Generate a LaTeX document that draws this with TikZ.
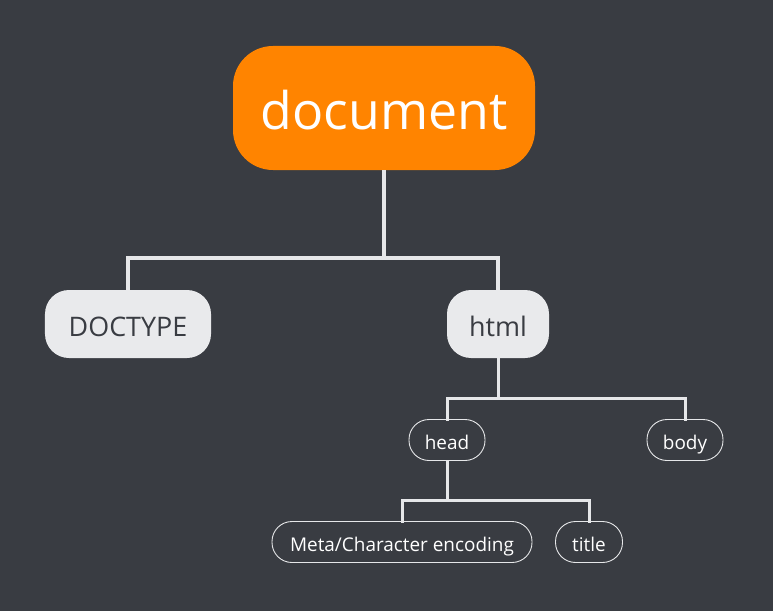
\documentclass[tikz,border=0pt]{standalone}
\usepackage{fontspec}
\setmainfont{Open Sans}
\usetikzlibrary{positioning, calc}
\definecolor{bgdark}{RGB}{57,60,66}
\definecolor{rootorange}{RGB}{255,132,0}
\definecolor{boxlight}{RGB}{233,234,236}
\definecolor{linelight}{RGB}{230,231,233}

\begin{document}
\begin{tikzpicture}[x=1bp, y=-1bp,
        root/.style={fill=rootorange, rounded corners=40bp, minimum width=302bp,
          minimum height=124bp, inner sep=0pt, text height=44bp, text depth=0pt,
          text=white, font=\fontsize{52}{60}\selectfont},
        branch/.style={fill=boxlight, rounded corners=24bp, minimum height=68bp,
          inner sep=0pt, text height=24bp, text depth=0pt,
          text=bgdark, font=\fontsize{27}{30}\selectfont},
        leaf/.style={draw=linelight, line width=0.9bp, rounded corners=20bp, minimum height=41bp,
          inner sep=0pt, text height=19bp, text depth=0pt,
          text=white, font=\fontsize{19}{22}\selectfont},
        conn/.style={draw=linelight, line width=3.6bp},
        subconn/.style={draw=linelight, line width=3bp}]
      \fill[bgdark] (0,0) rectangle (773,611);
      % nodes
      \node[root] (doc) at (384,108) {document};
      \node[branch, minimum width=166bp] (doctype) at (128,324) {DOCTYPE};
      \node[branch, minimum width=102bp] (html) at (498,324) {html};
      \node[leaf, minimum width=76bp] (head) at (447,440) {head};
      \node[leaf, minimum width=76bp] (body) at (685,440) {body};
      \node[leaf, minimum width=260bp] (meta) at (402,542) {Meta/Character encoding};
      \node[leaf, minimum width=67bp] (title) at (589,542) {title};
      % connectors
      \coordinate (j1) at (doc.south |- 0,258);
      \coordinate (j2) at (html.south |- 0,398);
      \coordinate (j3) at (head.south |- 0,500);
      \draw[conn] (doc.south) -- (j1);
      \draw[conn] (j1) -| (doctype.north);
      \draw[conn] (j1) -| (html.north);
      \draw[subconn] (html.south) -- (j2);
      \draw[subconn] (j2) -| ([yshift=-2bp]head.north);
      \draw[subconn] (j2) -| ([yshift=-2bp]body.north);
      \draw[subconn] (head.south) -- (j3);
      \draw[subconn] (j3) -| ([yshift=-2bp]meta.north);
      \draw[subconn] (j3) -| ([yshift=-2bp]title.north);
    \end{tikzpicture}
\end{document}
